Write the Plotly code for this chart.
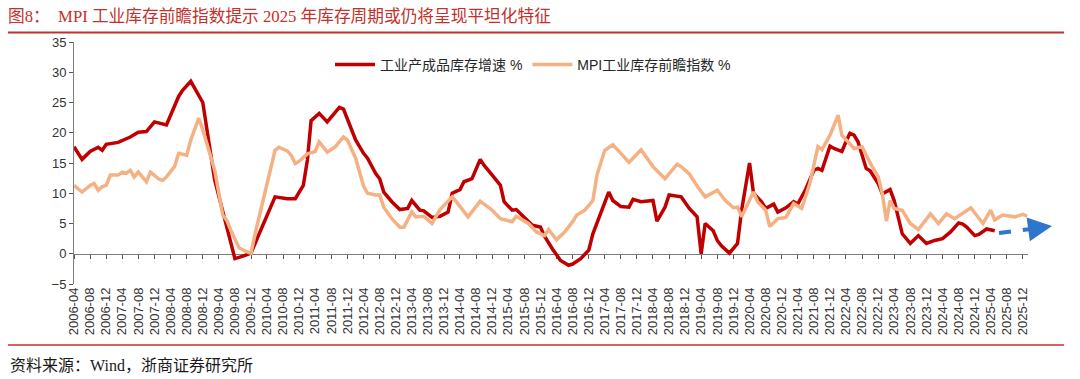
import plotly.graph_objects as go
import pandas as pd

# ---------------- data ----------------
red_dates = ["2006-04","2006-06","2006-08","2006-10","2006-11","2006-12","2007-03","2007-06","2007-08","2007-10",
             "2007-12","2008-03","2008-06","2008-07","2008-09","2008-12","2009-03","2009-06","2009-08","2009-10",
             "2009-12","2010-02","2010-06","2010-09","2010-11","2011-01","2011-02","2011-03","2011-05","2011-07",
             "2011-09","2011-10","2011-11","2012-01","2012-02","2012-04","2012-05","2012-07","2012-08","2012-09",
             "2012-11","2013-01","2013-03","2013-04","2013-06","2013-07","2013-09","2013-11","2014-01","2014-02",
             "2014-04","2014-05","2014-07","2014-09","2014-10","2014-12","2015-02","2015-03","2015-05","2015-06",
             "2015-08","2015-10","2015-12","2016-01","2016-03","2016-05","2016-07","2016-08","2016-10","2016-12",
             "2017-01","2017-03","2017-05","2017-06","2017-08","2017-10","2017-11","2018-01","2018-04","2018-05",
             "2018-07","2018-08","2018-10","2018-11","2019-01","2019-03","2019-04","2019-05","2019-07","2019-08",
             "2019-09","2019-11","2020-01","2020-02","2020-04","2020-05","2020-07","2020-08","2020-10","2020-11",
             "2021-01","2021-03","2021-04","2021-06","2021-08","2021-09","2021-10","2021-12","2022-01","2022-03",
             "2022-04","2022-05","2022-06","2022-07","2022-09","2022-10","2022-12","2023-01","2023-03","2023-04",
             "2023-06","2023-08","2023-10","2023-12","2024-02","2024-04","2024-06","2024-08","2024-09","2024-10",
             "2024-12","2025-01","2025-03","2025-05"]
red_values = [17.7,15.6,16.9,17.6,17.1,18.1,18.4,19.3,20.1,20.2,
              21.8,21.3,26.0,27.0,28.5,25.0,12.2,4.7,-0.8,-0.4,
              0.1,3.3,9.4,9.1,9.1,11.3,15.5,22.0,23.2,21.8,
              23.3,24.2,23.9,20.7,18.8,16.6,15.8,13.3,12.4,10.2,
              8.6,7.3,7.5,8.8,7.2,7.1,6.0,6.2,6.9,10.0,
              10.6,11.9,12.4,15.6,14.6,13.0,11.3,8.6,7.2,7.3,
              6.0,4.7,4.4,2.9,0.8,-1.1,-1.9,-1.7,-0.8,0.6,
              3.3,6.6,10.2,8.8,7.8,7.7,9.0,8.6,8.8,5.4,
              7.7,9.7,9.5,9.4,7.5,6.1,0.0,5.0,3.8,2.2,
              1.3,0.1,1.7,7.2,15.0,10.0,8.6,7.5,8.2,6.9,
              7.6,8.6,8.2,10.7,13.8,14.1,13.8,17.8,17.4,16.9,
              18.5,19.9,19.6,18.5,14.1,13.7,11.6,9.9,10.6,8.8,
              3.3,1.7,3.0,1.7,2.2,2.5,3.6,5.1,4.9,4.4,
              3.0,3.2,4.1,3.8]

mpi_dates = ["2006-04","2006-06","2006-08","2006-09","2006-10","2006-11","2006-12","2007-01","2007-03","2007-04",
             "2007-05","2007-06","2007-07","2007-08","2007-10","2007-11","2008-01","2008-02","2008-03","2008-05",
             "2008-06","2008-08","2008-09","2008-11","2008-12","2009-03","2009-05","2009-06","2009-07","2009-09",
             "2009-11","2009-12","2010-01","2010-04","2010-06","2010-07","2010-09","2010-10","2010-11","2010-12",
             "2011-02","2011-04","2011-05","2011-07","2011-09","2011-11","2011-12","2012-02","2012-03","2012-04",
             "2012-05","2012-07","2012-08","2012-09","2012-11","2013-01","2013-02","2013-04","2013-05","2013-07",
             "2013-09","2013-11","2013-12","2014-02","2014-03","2014-06","2014-09","2014-11","2014-12","2015-02",
             "2015-04","2015-05","2015-06","2015-09","2015-11","2016-01","2016-02","2016-04","2016-06","2016-08",
             "2016-09","2016-11","2017-01","2017-02","2017-04","2017-06","2017-08","2017-10","2018-01","2018-04",
             "2018-07","2018-10","2018-11","2019-01","2019-03","2019-05","2019-08","2019-10","2019-12","2020-01",
             "2020-02","2020-03","2020-05","2020-06","2020-08","2020-09","2020-11","2021-01","2021-03","2021-05",
             "2021-07","2021-09","2021-10","2021-12","2022-02","2022-03","2022-06","2022-08","2022-10","2022-12",
             "2023-01","2023-02","2023-03","2023-04","2023-06","2023-08","2023-10","2024-01","2024-03","2024-05",
             "2024-07","2024-11","2025-02","2025-04","2025-05","2025-07","2025-10","2025-12","2026-01"]
mpi_values = [11.3,10.2,11.3,11.6,10.5,11.1,11.3,13.0,13.0,13.5,
              13.3,13.8,12.7,13.5,11.9,13.5,12.4,12.1,12.7,14.4,
              16.6,16.3,18.8,22.4,20.5,13.8,6.4,5.5,3.9,1.0,
              0.3,0.1,3.3,11.5,17.1,17.6,17.0,16.3,14.9,15.3,
              16.5,16.9,18.5,16.8,17.7,19.3,18.8,15.8,13.3,11.2,
              10.0,9.7,9.7,7.7,5.8,4.4,4.4,6.9,6.1,6.2,
              5.0,7.3,8.0,9.4,8.7,6.1,8.7,7.7,7.2,5.8,
              5.4,5.3,6.2,5.0,3.6,3.0,4.0,2.3,3.6,5.3,
              6.4,7.2,8.8,13.0,17.1,18.0,16.6,15.1,17.2,14.4,
              12.4,14.8,14.4,13.2,11.2,9.4,10.5,8.8,7.6,7.7,
              6.1,7.5,10.2,8.6,7.2,4.5,5.8,6.0,8.3,7.5,
              11.6,17.7,17.2,19.6,22.9,19.6,17.4,17.7,15.0,12.7,
              9.9,5.4,8.8,7.5,7.2,5.0,4.0,6.6,5.0,6.6,
              5.8,7.6,5.0,7.2,5.6,6.4,6.1,6.5,6.2]

tick_labels = [d.strftime("%Y-%m") for d in pd.date_range("2006-04-01", "2025-12-01", freq="4MS")]
y_ticks = [-5, 0, 5, 10, 15, 20, 25, 30, 35]

series_names = ["工业产成品库存增速 %", "MPI工业库存前瞻指数 %"]
title_text = "图8：  MPI 工业库存前瞻指数提示 2025 年库存周期或仍将呈现平坦化特征"
source_text = "资料来源：Wind，浙商证券研究所"

# ---------------- styling ----------------
W, H = 1080, 379
ML, MR, MT, MB = 74, 52, 42, 95
PW, PH = W - ML - MR, H - MT - MB
RED = "#C00000"
ORANGE = "#F4B183"
RULE = "#C4302B"
SANS = "Liberation Sans, Arial, Noto Sans CJK SC"
SERIF = "Liberation Serif, Times New Roman, Noto Sans CJK SC"

def px_x(p):
    return (p - ML) / PW

def px_y(p):
    return (H - MB - p) / PH

x_range = ["2006-04-01", "2026-01-08"]
tick_vals = [t + "-01" for t in tick_labels]

fig = go.Figure()
fig.add_trace(go.Scatter(x=[d + "-01" for d in red_dates], y=red_values, mode="lines",
                         name=series_names[0], line=dict(color=RED, width=3.5)))
fig.add_trace(go.Scatter(x=[d + "-01" for d in mpi_dates], y=mpi_values, mode="lines",
                         name=series_names[1], line=dict(color=ORANGE, width=3.5)))
# placeholder so the zero-line axis (x2) is drawn
fig.add_trace(go.Scatter(x=[tick_vals[0]], y=[None], xaxis="x2", yaxis="y",
                         showlegend=False, hoverinfo="skip", mode="lines"))

fig.update_layout(
    width=W, height=H,
    margin=dict(l=ML, r=MR, t=MT, b=MB),
    paper_bgcolor="white", plot_bgcolor="white",
    showlegend=True,
    legend=dict(orientation="h", x=px_x(330), y=px_y(49), xanchor="left", yanchor="top",
                font=dict(family=SANS, size=14, color="#262626"), bgcolor="rgba(0,0,0,0)",
                tracegroupgap=0, itemwidth=40),
    xaxis=dict(type="date", range=x_range, tickvals=tick_vals, ticktext=tick_labels,
               tickangle=-90, ticks="", showline=False, showgrid=False, zeroline=False,
               tickfont=dict(family=SANS, size=13, color="#333333")),
    xaxis2=dict(type="date", range=x_range, overlaying="x", anchor="free", position=0.125,
                side="bottom", tickvals=tick_vals, showticklabels=False, ticks="outside",
                ticklen=4, tickcolor="#555555", tickwidth=1, showline=True,
                linecolor="#7f7f7f", linewidth=1, showgrid=False, zeroline=False,
                layer="below traces"),
    yaxis=dict(range=[-5, 35], tickvals=y_ticks, ticks="outside", ticklen=4,
               tickcolor="#555555", showline=True, linecolor="#7f7f7f", linewidth=1,
               showgrid=False, zeroline=False,
               tickfont=dict(family=SANS, size=13, color="#333333")),
    title=dict(text=title_text, xref="container", yref="container", x=8 / W,
               y=1 - 16 / H, xanchor="left", yanchor="middle",
               font=dict(family=SERIF, size=16.7, color=RULE)),
)

# title and bottom rules
fig.add_shape(type="line", xref="paper", yref="paper", x0=px_x(8), x1=px_x(1064),
              y0=px_y(32.5), y1=px_y(32.5), line=dict(color=RULE, width=2))
fig.add_shape(type="line", xref="paper", yref="paper", x0=px_x(8), x1=px_x(1064),
              y0=px_y(345), y1=px_y(345), line=dict(color=RULE, width=1.5))

# source note
fig.add_annotation(text=source_text, xref="paper", yref="paper", x=px_x(8), y=px_y(365),
                   xanchor="left", yanchor="middle", showarrow=False,
                   font=dict(family=SERIF, size=16, color="#1a1a1a"))

# blue dashed trend arrow
BLUE = "#2E75CC"
fig.add_shape(type="line", xref="paper", yref="paper", x0=px_x(999), y0=px_y(233),
              x1=px_x(1040), y1=px_y(227.8), line=dict(color=BLUE, width=4, dash="dash"))
fig.add_annotation(xref="paper", yref="paper", x=px_x(1052), y=px_y(226),
                   ax=-16, ay=2.2, axref="pixel", ayref="pixel",
                   text="", showarrow=True, arrowhead=2, arrowsize=1.2, arrowwidth=4,
                   arrowcolor=BLUE)

fig.write_html("out.html", config={"displayModeBar": False},
               post_script="document.body.style.margin='0px';document.body.style.overflow='hidden';")
